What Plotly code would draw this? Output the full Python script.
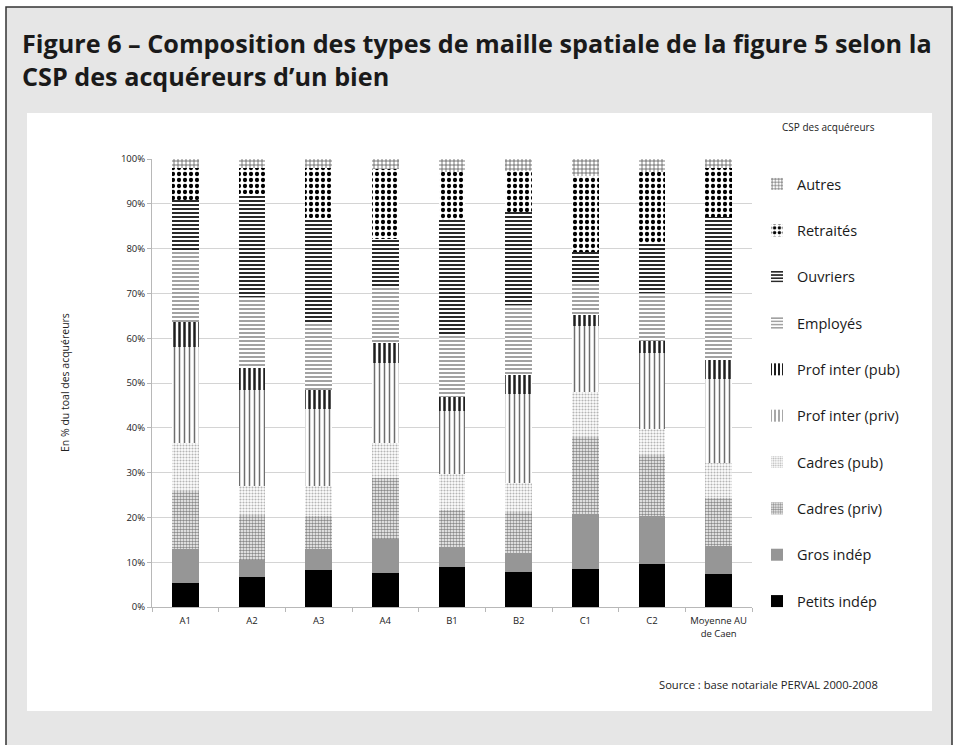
import plotly.graph_objects as go

categories = ["A1", "A2", "A3", "A4", "B1", "B2", "C1", "C2", "Moyenne AU<br>de Caen"]

petits_indep = [5.4, 6.6, 8.3, 7.7, 8.9, 7.9, 8.5, 9.6, 7.4]
gros_indep = [7.6, 4.0, 4.6, 7.4, 4.6, 4.2, 12.3, 10.8, 6.3]
cadres_priv = [13.0, 9.9, 7.5, 13.6, 8.2, 9.2, 17.2, 13.5, 10.7]
cadres_pub = [10.7, 6.4, 6.5, 8.0, 8.0, 6.3, 10.1, 5.8, 7.7]
prof_inter_priv = [21.4, 21.5, 17.4, 17.8, 14.1, 19.9, 14.7, 16.9, 18.7]
prof_inter_pub = [5.5, 4.9, 4.1, 4.5, 3.1, 4.3, 2.4, 2.8, 4.3]
employes = [15.9, 16.0, 14.9, 12.5, 14.1, 15.6, 7.1, 10.6, 14.9]
ouvriers = [11.4, 23.0, 23.5, 10.6, 25.4, 20.8, 7.0, 11.3, 17.1]
retraites = [7.0, 5.7, 11.2, 15.6, 10.8, 9.2, 16.9, 15.7, 10.8]
autres = [2.1, 2.0, 2.0, 2.3, 2.8, 2.6, 3.8, 3.0, 2.1]

y_tick_vals = [0, 10, 20, 30, 40, 50, 60, 70, 80, 90, 100]
y_tick_text = ["0%", "10%", "20%", "30%", "40%", "50%", "60%", "70%", "80%", "90%", "100%"]

series = [
    ("Petits indép", petits_indep, dict(color="#000000")),
    ("Gros indép", gros_indep, dict(color="#969696")),
    ("Cadres (priv)", cadres_priv, dict(color="#ffffff", pattern=dict(shape=".", fgcolor="#8a8a8a", bgcolor="#ffffff", size=3, solidity=0.55, fillmode="replace"))),
    ("Cadres (pub)", cadres_pub, dict(color="#ffffff", pattern=dict(shape=".", fgcolor="#b5b5b5", bgcolor="#ffffff", size=3, solidity=0.4, fillmode="replace"))),
    ("Prof inter (priv)", prof_inter_priv, dict(color="#ffffff", pattern=dict(shape="|", fgcolor="#6e6e6e", bgcolor="#ffffff", size=5, solidity=0.3, fillmode="replace"))),
    ("Prof inter (pub)", prof_inter_pub, dict(color="#ffffff", pattern=dict(shape="|", fgcolor="#1e1e1e", bgcolor="#ffffff", size=5, solidity=0.5, fillmode="replace"))),
    ("Employés", employes, dict(color="#ffffff", pattern=dict(shape="-", fgcolor="#7a7a7a", bgcolor="#ffffff", size=4, solidity=0.35, fillmode="replace"))),
    ("Ouvriers", ouvriers, dict(color="#ffffff", pattern=dict(shape="-", fgcolor="#2a2a2a", bgcolor="#ffffff", size=4, solidity=0.5, fillmode="replace"))),
    ("Retraités", retraites, dict(color="#ffffff", pattern=dict(shape=".", fgcolor="#000000", bgcolor="#ffffff", size=6, solidity=0.4, fillmode="replace"))),
    ("Autres", autres, dict(color="#ffffff", pattern=dict(shape="+", fgcolor="#555555", bgcolor="#ffffff", size=4, solidity=0.35, fillmode="replace"))),
]

fig = go.Figure()
n = len(series)
for i, (name, vals, marker) in enumerate(series):
    marker = dict(marker)
    marker["line"] = dict(width=0)
    fig.add_trace(go.Bar(x=categories, y=vals, name=name, marker=marker,
                         legendgroup=f"g{i}", legendrank=n - i))

W, H = 953, 745
L, R, T, B = 152, 752, 159, 607


def px(x):
    return (x - L) / (R - L)


def py(y):
    return (B - y) / (B - T)


FONT = "Open Sans, Liberation Sans, sans-serif"

fig.update_layout(
    width=W, height=H,
    margin=dict(l=L, r=W - R, t=T, b=H - B, pad=0),
    barmode="stack",
    bargap=0.6,
    paper_bgcolor="#ffffff",
    plot_bgcolor="#ffffff",
    font=dict(family=FONT, size=10, color="#222222"),
    xaxis=dict(
        showline=True, linecolor="#b8b8b8", linewidth=1,
        ticks="outside", tickson="boundaries", ticklen=4, tickcolor="#b8b8b8",
        tickfont=dict(size=9.5, color="#222222"),
        ticklabelstandoff=5,
        showgrid=False,
    ),
    yaxis=dict(
        range=[0, 100], tickvals=y_tick_vals, ticktext=y_tick_text,
        showline=True, linecolor="#b8b8b8", linewidth=1,
        ticks="outside", ticklen=4, tickcolor="#b8b8b8",
        showgrid=True, gridcolor="#d4d4d4", gridwidth=1,
        tickfont=dict(size=9.5, color="#222222"),
        zeroline=False,
    ),
    legend=dict(
        x=px(757), y=py(168), xanchor="left", yanchor="top",
        traceorder="grouped", tracegroupgap=24.5,
        font=dict(size=14.5, color="#1a1a1a"),
        bgcolor="rgba(0,0,0,0)",
        maxheight=720,
    ),
    shapes=[
        dict(type="rect", xref="paper", yref="paper", x0=px(6), x1=px(952), y0=py(780), y1=py(7),
             fillcolor="#e6e6e6", line=dict(color="#333333", width=1.5), layer="below"),
        dict(type="rect", xref="paper", yref="paper", x0=px(27), x1=px(932), y0=py(711), y1=py(113),
             fillcolor="#ffffff", line=dict(width=0), layer="below"),
    ],
    annotations=[
        dict(text="<b>Figure 6 – Composition des types de maille spatiale de la figure 5 selon la<br>CSP des acquéreurs d’un bien</b>",
             xref="paper", yref="paper", x=px(20), y=py(24), xanchor="left", yanchor="top",
             align="left", showarrow=False, font=dict(family=FONT, size=25.2, color="#1a1a1a")),
        dict(text="En % du toal des acquéreurs", xref="paper", yref="paper", x=px(65), y=py(383),
             xanchor="center", yanchor="middle",
             textangle=-90, showarrow=False, font=dict(size=10.5, color="#222222")),
        dict(text="CSP des acquéreurs", xref="paper", yref="paper", x=px(828), y=py(127),
             xanchor="center", yanchor="middle",
             showarrow=False, font=dict(size=10, color="#222222")),
        dict(text="Source : base notariale PERVAL 2000-2008", xref="paper", yref="paper", x=px(768), y=py(684),
             xanchor="center", yanchor="middle",
             showarrow=False, font=dict(size=11.2, color="#222222")),
    ],
)

fig.write_html("out.html", config={"displayModeBar": False},
               post_script="document.body.style.margin='0';")
